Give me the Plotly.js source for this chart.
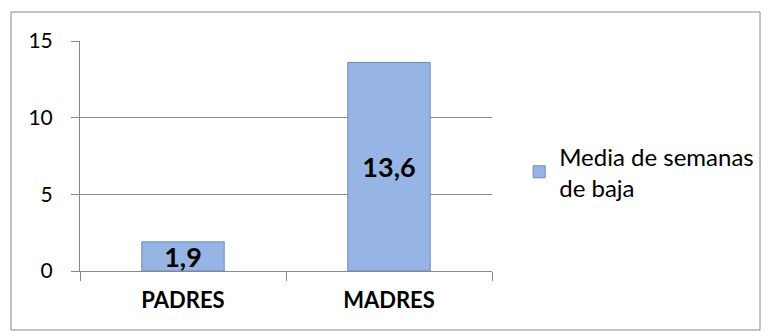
<!DOCTYPE html>
<html><head><meta charset="utf-8">
<script src="https://cdn.plot.ly/plotly-3.0.1.min.js"></script>
<style>body{margin:0;background:#fff}#c{width:772px;height:331px}</style>
</head><body><div id="c"></div>
<script>
const categories = ["PADRES", "MADRES"];
const values = [1.9, 13.6];
const seriesName = "Media de semanas<br>de baja";
const yTicks = [0, 5, 10, 15];

const trace = {
  type: "bar",
  x: categories,
  y: values,
  name: seriesName,
  width: 0.4,
  marker: {color: "#96b4e4", line: {color: "#6a8bc4", width: 1}},
  texttemplate: "%{y:.1f}",
  textposition: "inside",
  insidetextanchor: "middle",
  constraintext: "none",
  textfont: {family: "Lato, 'Open Sans', sans-serif", size: 27, color: "#000", weight: "bold"},
  hoverinfo: "none"
};

const layout = {
  width: 772, height: 331,
  separators: ",.",
  margin: {l: 80, r: 280, t: 41, b: 60},
  paper_bgcolor: "#fff", plot_bgcolor: "#fff",
  font: {family: "Lato, 'Open Sans', sans-serif", color: "#000"},
  showlegend: true,
  legend: {x: 1.066, xanchor: "left", y: 0.43, yanchor: "middle",
           font: {size: 24}, bgcolor: "rgba(0,0,0,0)", itemwidth: 30},
  xaxis: {type: "category", tickson: "boundaries", ticks: "outside", ticklen: 9,
          tickcolor: "#888", showline: true, linecolor: "#888", linewidth: 1,
          ticklabelstandoff: 10,
          tickfont: {size: 22, weight: "bold"}, showgrid: false},
  yaxis: {range: [0, 15], tickvals: yTicks, ticks: "outside", ticklen: 8,
          tickcolor: "#888", showline: true, linecolor: "#888", showgrid: true,
          gridcolor: "#888", gridwidth: 1, zeroline: false,
          ticklabelstandoff: 14,
          tickfont: {size: 21}},
  shapes: [{type: "rect", xref: "paper", yref: "paper",
            x0: (11-80)/412, x1: (760-80)/412, y0: (271-330)/230, y1: (271-12)/230,
            line: {color: "#888", width: 1}, layer: "below"}]
};

Plotly.newPlot("c", [trace], layout, {displayModeBar: false, staticPlot: true});
</script></body></html>
